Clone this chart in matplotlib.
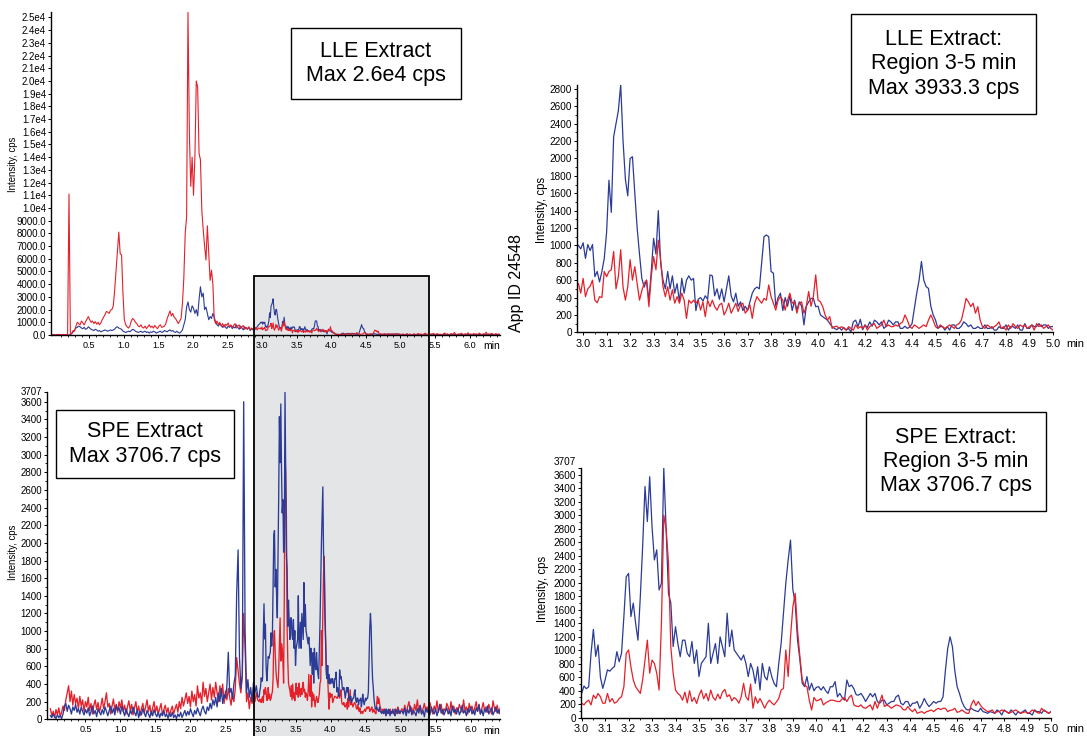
import numpy as np
import matplotlib
matplotlib.use('Agg')
import matplotlib.pyplot as plt
from matplotlib.patches import Rectangle
from matplotlib.transforms import ScaledTranslation

plt.rcParams['font.family'] = ['Liberation Sans', 'DejaVu Sans']

RED = '#e5202a'
BLUE = '#2b3b96'

# ---------------- DATA ----------------
# LLE extract, region 2.98-5.00 min, 0.01 min spacing
LLE_MID_START, LLE_MID_STEP = 2.98, 0.01
lle_mid_red = [
    560, 450,
    620, 410, 500, 530, 600, 370, 340, 410, 400, 700,
    640, 700, 720, 930, 500, 640, 950, 520, 370, 525,
    835, 600, 755, 565, 370, 480, 565, 600, 295, 640,
    870, 720, 1060, 835, 525, 410, 525, 370, 490, 335,
    410, 335, 450, 370, 160, 370, 335, 370, 335, 370,
    255, 350, 180, 370, 295, 370, 295, 255, 315, 335,
    200, 255, 335, 220, 275, 335, 240, 315, 335, 220,
    255, 315, 160, 335, 410, 370, 335, 390, 370, 545,
    410, 335, 255, 370, 410, 370, 255, 370, 450, 335,
    350, 220, 335, 350, 220, 300, 470, 300, 410, 660,
    370, 350, 295, 200, 140, 180, 45, 65, 70, 45,
    65, 45, 25, 65, 45, 25, 85, 45, 65, 45,
    85, 25, 65, 85, 100, 45, 65, 85, 140, 65,
    85, 65, 65, 85, 70, 100, 120, 200, 140, 65,
    45, 85, 65, 45, 65, 85, 65, 140, 200, 140,
    65, 45, 85, 65, 45, 65, 85, 65, 45, 85,
    100, 140, 255, 390, 350, 295, 335, 220, 295, 140,
    65, 45, 85, 65, 45, 65, 85, 120, 45, 65,
    25, 85, 45, 100, 65, 45, 85, 65, 85, 45,
    65, 85, 25, 100, 65, 85, 45, 65, 85, 45,
    25]
lle_mid_blue = [
    1000, 960,
    1030, 850, 1010, 940, 1010, 640, 700, 580, 700, 850,
    1150, 1750, 1380, 2250, 2400, 2550, 2850, 2200, 1760, 1570,
    2000, 2020, 1600, 1200, 900, 620, 520, 600, 360, 700,
    1080, 900, 1400, 800, 600, 500, 700, 500, 650, 450,
    560, 350, 620, 450, 600, 650, 600, 620, 250, 380,
    400, 360, 420, 380, 660, 650, 420, 500, 380, 500,
    350, 500, 650, 420, 350, 450, 300, 350, 250, 300,
    250, 350, 450, 500, 520, 500, 800, 1100, 1120, 1100,
    700, 680, 300, 400, 450, 250, 400, 300, 420, 250,
    370, 255, 350, 300, 85, 300, 350, 390, 390, 295,
    300, 200, 180, 160, 140, 100, 65, 45, 30, 55,
    25, 55, 25, 45, 5, 120, 140, 65, 150, 30,
    85, 55, 120, 70, 140, 120, 85, 120, 45, 70,
    140, 120, 85, 120, 120, 45, 45, 70, 45, 60,
    100, 275, 450, 600, 815, 600, 525, 505, 300, 200,
    140, 45, 65, 65, 25, 65, 25, 85, 85, 45,
    45, 70, 120, 100, 65, 85, 45, 45, 65, 45,
    45, 85, 45, 45, 65, 25, 25, 65, 45, 45,
    85, 25, 65, 65, 45, 85, 25, 25, 100, 45,
    45, 85, 65, 65, 100, 65, 85, 85, 45, 65,
    65]

# SPE extract, region 2.98-5.00 min, 0.01 min spacing
SPE_MID_START, SPE_MID_STEP = 2.98, 0.01
spe_mid_red = [
    200, 230,
    215, 190, 235, 260, 190, 335, 285, 360, 310, 215,
    215, 360, 235, 285, 215, 235, 285, 310, 460, 955,
    1005, 755, 560, 460, 410, 360, 560, 855, 1150, 660,
    855, 805, 660, 410, 1400, 3005, 2800, 2300, 1050, 660,
    410, 360, 330, 260, 380, 220, 400, 240, 300, 210,
    330, 410, 280, 360, 250, 410, 300, 260, 350, 280,
    380, 420, 310, 340, 250, 300, 270, 215, 310, 510,
    310, 260, 500, 140, 310, 215, 285, 215, 140, 215,
    260, 220, 190, 235, 285, 410, 435, 1005, 610, 1200,
    1645, 1845, 1300, 905, 560, 480, 460, 260, 115, 300,
    250, 260, 285, 190, 220, 240, 260, 260, 250, 240,
    240, 280, 300, 240, 300, 335, 190, 170, 165, 190,
    150, 140, 165, 190, 115, 240, 140, 240, 335, 165,
    190, 170, 140, 165, 190, 180, 165, 120, 115, 165,
    120, 90, 130, 65, 80, 90, 65, 90, 100, 115,
    90, 120, 140, 120, 140, 140, 90, 110, 115, 140,
    80, 90, 115, 90, 65, 65, 190, 260, 180, 240,
    180, 140, 115, 90, 100, 115, 65, 90, 90, 115,
    100, 90, 65, 80, 100, 115, 90, 65, 75, 90,
    65, 80, 115, 100, 80, 65, 140, 100, 90, 65,
    90]
spe_mid_blue = [
    250, 320,
    360, 470, 430, 460, 950, 1310, 910, 1080, 600, 435,
    560, 710, 690, 730, 760, 980, 830, 955, 1500, 2090,
    2140, 1500, 1700, 1400, 1150, 1795, 2540, 3430, 2910, 3575,
    2830, 2340, 2490, 1895, 1995, 3707, 2800, 1845, 1700, 1055,
    1350, 1100, 905, 1150, 1150, 955, 905, 1130, 805, 1005,
    610, 805, 855, 905, 1400, 805, 955, 1100, 805, 1200,
    1055, 905, 1550, 1055, 1300, 1005, 955, 905, 855, 930,
    805, 610, 805, 705, 510, 755, 410, 805, 610, 560,
    755, 610, 510, 460, 805, 1100, 1550, 1995, 2340, 2635,
    1900, 1700, 1150, 860, 510, 460, 610, 410, 510, 400,
    450, 460, 410, 460, 400, 360, 460, 460, 535, 310,
    360, 300, 260, 560, 460, 485, 430, 340, 335, 360,
    310, 240, 300, 360, 310, 360, 240, 215, 260, 260,
    190, 215, 240, 240, 310, 335, 215, 190, 240, 240,
    165, 215, 215, 240, 140, 200, 285, 215, 165, 200,
    240, 215, 240, 240, 310, 700, 1030, 1200, 1050, 700,
    460, 360, 240, 165, 120, 115, 140, 115, 100, 90,
    140, 90, 80, 65, 90, 80, 65, 115, 90, 40,
    115, 90, 65, 115, 80, 40, 90, 65, 90, 115,
    65, 65, 40, 115, 90, 90, 65, 115, 90, 65,
    90]

# LLE extract, full run: early part (-0.03 .. 2.97 min, 0.02 spacing)
LLE_EARLY_START, LLE_EARLY_STEP = -0.03, 0.02
lle_early_red = [
    0, 40, 0, 50, 20, 60, 0, 30, 50, 0,
    40, 20, 11100, 60, 150, 350, 300, 700, 1000, 900,
    800, 1100, 950, 800, 1050, 1250, 1450, 1200, 1000, 1100,
    900, 1050, 850, 1000, 800, 950, 1200, 1400, 1600, 1850,
    1800, 1700, 1950, 2000, 2300, 3500, 5000, 6500, 8100, 6400,
    6300, 3300, 1200, 800, 650, 550, 700, 1100, 1300, 1200,
    1000, 900, 700, 650, 800, 600, 550, 700, 500, 650,
    800, 600, 700, 550, 750, 600, 500, 700, 800, 600,
    650, 700, 900, 1300, 1600, 1900, 1500, 1700, 1400, 1300,
    1100, 900, 1100, 1300, 2500, 4500, 8000, 9300, 25400, 15900,
    11700, 14000, 11000, 14000, 20000, 19500, 14300, 13800, 9800, 8300,
    7000, 5900, 8600, 6400, 4300, 5100, 4000, 1200, 900, 1100,
    800, 1000, 700, 900, 600, 850, 750, 950, 650, 800,
    600, 750, 900, 550, 700, 800, 500, 650, 750, 450,
    600, 500, 650, 400, 550, 450, 500, 600, 400, 550,
    500]
lle_early_blue = [
    0, 0, 0, 0, 0, 0, 0, 0, 0, 0,
    0, 0, 0, 30, 100, 250, 400, 550, 600, 700,
    650, 550, 500, 600, 450, 500, 650, 550, 450, 400,
    350, 450, 400, 300, 350, 250, 300, 350, 400, 350,
    300, 350, 400, 350, 400, 450, 600, 650, 550, 500,
    450, 300, 250, 200, 250, 300, 250, 350, 450, 400,
    300, 250, 200, 250, 300, 200, 250, 300, 200, 250,
    150, 250, 200, 300, 250, 150, 200, 250, 300, 200,
    250, 350, 300, 250, 350, 400, 300, 350, 250, 200,
    300, 200, 150, 250, 400, 800, 1200, 2200, 2600, 2000,
    1800, 2300, 2100, 1700, 2000, 1500, 2800, 3800, 3000, 3300,
    2000, 2200, 1700, 1200, 1450, 1300, 1700, 1400, 1000, 800,
    700, 900, 750, 600, 800, 650, 500, 700, 600, 750,
    500, 650, 550, 800, 600, 450, 700, 550, 400, 650,
    500, 450, 600, 350, 500, 400, 550, 450, 650, 800,
    900]

# LLE extract, late part (5.02 .. 6.44 min, 0.02 spacing)
LLE_LATE_START, LLE_LATE_STEP = 5.02, 0.02
lle_late_red = [
    40, 80, 20, 60, 100, 30, 70, 10, 50, 90,
    30, 60, 120, 40, 80, 20, 60, 150, 40, 70,
    20, 90, 50, 130, 30, 70, 100, 40, 60, 20,
    80, 160, 50, 90, 30, 70, 110, 40, 200, 60,
    30, 90, 50, 140, 70, 20, 100, 60, 180, 40,
    80, 30, 120, 60, 90, 40, 150, 70, 30, 100,
    50, 220, 60, 90, 40, 130, 70, 30, 110, 50,
    80, 60]
lle_late_blue = [
    30, 50, 10, 40, 70, 20, 50, 0, 30, 60,
    20, 40, 80, 10, 50, 30, 60, 20, 40, 10,
    50, 30, 70, 20, 40, 60, 10, 30, 50, 20,
    40, 70, 30, 50, 10, 40, 60, 20, 50, 30,
    10, 40, 60, 20, 50, 30, 70, 10, 40, 20,
    50, 30, 60, 10, 40, 20, 50, 30, 10, 60,
    40, 20, 50, 30, 70, 20, 40, 10, 50, 30,
    40, 20]

# SPE extract, early part (0.00 .. 2.96 min, 0.02 spacing)
SPE_EARLY_START, SPE_EARLY_STEP = 0.0, 0.02
spe_early_red = [
    120, 40, 90, 20, 110, 50, 130, 30, 80, 150,
    100, 220, 300, 380, 200, 320, 160, 280, 180, 240,
    120, 260, 150, 220, 90, 200, 140, 250, 100, 180,
    60, 160, 220, 110, 190, 80, 150, 240, 120, 200,
    300, 140, 180, 60, 150, 230, 100, 170, 80, 200,
    130, 220, 90, 160, 60, 140, 210, 100, 170, 50,
    130, 200, 80, 150, 40, 120, 180, 70, 140, 220,
    90, 160, 50, 130, 200, 80, 150, 60, 120, 180,
    50, 110, 160, 70, 130, 40, 100, 150, 60, 120,
    170, 80, 200, 120, 250, 150, 220, 300, 180, 260,
    140, 320, 200, 280, 150, 380, 240, 300, 180, 420,
    260, 350, 200, 300, 400, 220, 360, 250, 420, 300,
    200, 380, 260, 400, 180, 320, 220, 350, 250, 160,
    300, 200, 350, 700, 550, 400, 300, 500, 1200, 800,
    200, 300, 120, 250, 180, 350, 200, 300, 220]
spe_early_blue = [
    40, 20, 60, 30, 10, 50, 20, 40, 10, 60,
    150, 180, 90, 160, 120, 60, 140, 100, 170, 80,
    120, 60, 140, 90, 50, 110, 70, 130, 40, 90,
    150, 60, 100, 30, 120, 80, 50, 110, 60, 140,
    90, 40, 100, 150, 70, 120, 50, 160, 100, 130,
    60, 150, 90, 40, 120, 70, 30, 100, 60, 140,
    80, 40, 110, 20, 90, 50, 120, 70, 30, 100,
    60, 20, 90, 40, 110, 60, 30, 80, 20, 70,
    40, 100, 30, 60, 10, 70, 30, 80, 20, 50,
    10, 60, 30, 80, 20, 60, 100, 40, 90, 50,
    120, 70, 30, 100, 60, 130, 80, 40, 110, 150,
    90, 60, 140, 100, 180, 120, 220, 160, 250, 140,
    300, 200, 350, 180, 280, 240, 380, 760, 300, 350,
    230, 400, 500, 1430, 1920, 700, 350, 500, 3600, 1000,
    300, 450, 250, 360, 200, 420, 300, 380, 260]

# SPE extract, late part (5.02 .. 6.44 min, 0.02 spacing)
SPE_LATE_START, SPE_LATE_STEP = 5.02, 0.02
spe_late_red = [
    120, 80, 160, 60, 140, 200, 90, 130, 60, 170,
    100, 220, 80, 150, 60, 120, 180, 90, 140, 70,
    190, 110, 60, 150, 100, 210, 80, 130, 170, 60,
    120, 90, 180, 140, 70, 200, 110, 150, 60, 130,
    90, 170, 120, 80, 220, 100, 140, 60, 180, 110,
    150, 70, 130, 200, 90, 160, 60, 120, 190, 100,
    140, 80, 170, 110, 60, 210, 130, 90, 160, 70,
    120, 180]
spe_late_blue = [
    90, 60, 130, 40, 110, 70, 150, 50, 100, 80,
    40, 120, 70, 160, 60, 100, 30, 130, 80, 110,
    50, 140, 90, 60, 120, 40, 100, 170, 70, 110,
    50, 90, 130, 60, 100, 40, 150, 80, 110, 60,
    130, 50, 90, 160, 70, 100, 40, 120, 80, 140,
    60, 100, 50, 130, 90, 170, 60, 110, 40, 120,
    80, 150, 60, 100, 130, 50, 90, 140, 70, 110,
    60, 100]

left_xticks = [0.5, 1.0, 1.5, 2.0, 2.5, 3.0, 3.5, 4.0, 4.5, 5.0, 5.5, 6.0]
right_xticks = [3.0, 3.1, 3.2, 3.3, 3.4, 3.5, 3.6, 3.7, 3.8, 3.9, 4.0,
                4.1, 4.2, 4.3, 4.4, 4.5, 4.6, 4.7, 4.8, 4.9, 5.0]

box_texts = {
    'lle_full': 'LLE Extract\nMax 2.6e4 cps',
    'spe_full': 'SPE Extract\nMax 3706.7 cps',
    'lle_zoom': 'LLE Extract:\nRegion 3-5 min\nMax 3933.3 cps',
    'spe_zoom': 'SPE Extract:\nRegion 3-5 min\nMax 3706.7 cps',
}
side_label = 'App ID 24548'


def grid(start, step, vals):
    return start + step * np.arange(len(vals))


lle_mid_t = grid(LLE_MID_START, LLE_MID_STEP, lle_mid_red)
spe_mid_t = grid(SPE_MID_START, SPE_MID_STEP, spe_mid_red)

lle_t = np.concatenate([grid(LLE_EARLY_START, LLE_EARLY_STEP, lle_early_red),
                        lle_mid_t,
                        grid(LLE_LATE_START, LLE_LATE_STEP, lle_late_red)])
lle_red = np.concatenate([lle_early_red, lle_mid_red, lle_late_red])
lle_tb = np.concatenate([grid(LLE_EARLY_START, LLE_EARLY_STEP, lle_early_blue),
                         grid(LLE_MID_START, LLE_MID_STEP, lle_mid_blue),
                         grid(LLE_LATE_START, LLE_LATE_STEP, lle_late_blue)])
lle_blue = np.concatenate([lle_early_blue, lle_mid_blue, lle_late_blue])

spe_t = np.concatenate([grid(SPE_EARLY_START, SPE_EARLY_STEP, spe_early_red),
                        spe_mid_t,
                        grid(SPE_LATE_START, SPE_LATE_STEP, spe_late_red)])
spe_red = np.concatenate([spe_early_red, spe_mid_red, spe_late_red])
spe_tb = np.concatenate([grid(SPE_EARLY_START, SPE_EARLY_STEP, spe_early_blue),
                         grid(SPE_MID_START, SPE_MID_STEP, spe_mid_blue),
                         grid(SPE_LATE_START, SPE_LATE_STEP, spe_late_blue)])
spe_blue = np.concatenate([spe_early_blue, spe_mid_blue, spe_late_blue])

# ---------------- FIGURE ----------------
W, H = 1087, 736
fig = plt.figure(figsize=(W / 100, H / 100), dpi=100)


def fx(x):
    return x / W


def fy(y):
    return 1 - y / H


def px_axes(l, t, r, b):
    ax = fig.add_axes([l / W, 1 - b / H, (r - l) / W, (b - t) / H])
    ax.patch.set_alpha(0)
    for s in ('top', 'right'):
        ax.spines[s].set_visible(False)
    for s in ('left', 'bottom'):
        ax.spines[s].set_linewidth(1.0)
    return ax


def lift_top_label(ax, pixels):
    lab = ax.get_yticklabels()[-1]
    lab.set_transform(lab.get_transform() +
                      ScaledTranslation(0, pixels / 100, fig.dpi_scale_trans))


# gray highlight region (fill behind, border on top)
fig.add_artist(Rectangle((fx(254), -0.01), fx(429) - fx(254), fy(276) + 0.01,
                         transform=fig.transFigure, facecolor='#e4e5e7',
                         edgecolor='none', zorder=-5))
fig.add_artist(Rectangle((fx(254), -0.01), fx(429) - fx(254), fy(276) + 0.01,
                         transform=fig.transFigure, facecolor='none',
                         edgecolor='black', lw=1.3, zorder=10))

# --- top-left: LLE full run
ax1 = px_axes(51, 12, 500, 335)
ax1.plot(lle_tb, lle_blue, color=BLUE, lw=0.8)
ax1.plot(lle_t, lle_red, color=RED, lw=0.8)
ax1.set_xlim(-0.05, 6.44)
ax1.set_ylim(0, 25430)
yt1 = list(range(0, 25001, 1000))
ax1.set_yticks(yt1)
ax1.set_yticklabels([f'{v:.1f}' if v < 10000 else f'{v / 1e4:.1f}e4' for v in yt1])

# --- bottom-left: SPE full run
ax2 = px_axes(46.7, 392.3, 500, 719.3)
ax2.plot(spe_t, spe_red, color=RED, lw=0.95)
ax2.plot(spe_tb, spe_blue, color=BLUE, lw=0.95)
ax2.set_xlim(-0.053, 6.42)
ax2.set_ylim(0, 3707)
yt2 = list(range(0, 3601, 200)) + [3707]
ax2.set_yticks(yt2)
ax2.set_yticklabels([str(v) for v in yt2])
ax2.set_yticks(list(range(100, 3700, 200)), minor=True)

for ax in (ax1, ax2):
    ax.set_xticks(left_xticks)
    ax.set_xticklabels([f'{v:.1f}' for v in left_xticks])
    ax.set_xticks([v / 10 for v in range(1, 65) if v % 5], minor=True)
    ax.tick_params(axis='x', which='major', length=2.5, width=0.7, pad=1.5, labelsize=6.5)
    ax.tick_params(axis='y', which='major', length=2.5, width=0.7, pad=1.0, labelsize=7)
    ax.tick_params(which='minor', length=1.5, width=0.6)
lift_top_label(ax2, 1.5)

# --- top-right: LLE region 3-5
ax3 = px_axes(577, 84.6, 1053, 332.3)
ax3.plot(lle_mid_t, lle_mid_blue, color=BLUE, lw=0.9)
ax3.plot(lle_mid_t, lle_mid_red, color=RED, lw=0.9)
ax3.set_xlim(2.974, 5.0)
ax3.set_ylim(0, 2850)
yt3 = list(range(0, 2801, 200))
ax3.set_yticks(yt3)
ax3.set_yticklabels([str(v) for v in yt3])
ax3.set_yticks(list(range(100, 2850, 200)), minor=True)

# --- bottom-right: SPE region 3-5
ax4 = px_axes(580.7, 467.8, 1051, 717.7)
ax4.plot(spe_mid_t, spe_mid_blue, color=BLUE, lw=0.9)
ax4.plot(spe_mid_t, spe_mid_red, color=RED, lw=0.9)
ax4.set_xlim(2.996, 5.0)
ax4.set_ylim(0, 3707)
yt4 = list(range(0, 3601, 200)) + [3707]
ax4.set_yticks(yt4)
ax4.set_yticklabels([str(v) for v in yt4])
ax4.set_yticks(list(range(100, 3700, 200)), minor=True)

for ax in (ax3, ax4):
    ax.set_xticks(right_xticks)
    ax.set_xticklabels([f'{v:.1f}' for v in right_xticks])
    ax.set_xticks([3.05 + 0.1 * k for k in range(20)], minor=True)
    ax.tick_params(axis='x', which='major', length=2.5, width=0.7, pad=2, labelsize=7.8)
    ax.tick_params(axis='y', which='major', length=2.5, width=0.7, pad=1.0, labelsize=7.2)
    ax.tick_params(which='minor', length=1.5, width=0.6)
lift_top_label(ax4, 7)

# axis unit labels
for (x, y) in [(492, 346), (492, 731), (1075, 344), (1075, 729)]:
    fig.text(fx(x), fy(y), 'min', ha='center', va='center',
             fontsize=7.5 if x < 600 else 8)

for (x, y, fs) in [(13, 164, 6.9), (13, 552, 6.9), (542, 210, 8.3), (543, 589, 8.3)]:
    fig.text(fx(x), fy(y), 'Intensity, cps', rotation=90, ha='center',
             va='center', fontsize=fs)

fig.text(fx(517), fy(283), side_label, rotation=90, ha='center', va='center',
         fontsize=11.5)

# annotation boxes
boxes = [
    ('lle_full', 291, 28, 461, 99),
    ('spe_full', 56, 410, 234, 478),
    ('lle_zoom', 851, 14, 1036, 114),
    ('spe_zoom', 866, 412, 1046, 511),
]
for key, l, t, r, b in boxes:
    fig.add_artist(Rectangle((fx(l), fy(b)), fx(r) - fx(l), fy(t) - fy(b),
                             transform=fig.transFigure, facecolor='white',
                             edgecolor='black', lw=1.0, zorder=20))
    fig.text(fx((l + r) / 2), fy((t + b) / 2), box_texts[key], ha='center',
             va='center', fontsize=15.5, linespacing=1.2, zorder=21)

fig.savefig('out.png', dpi=100)
